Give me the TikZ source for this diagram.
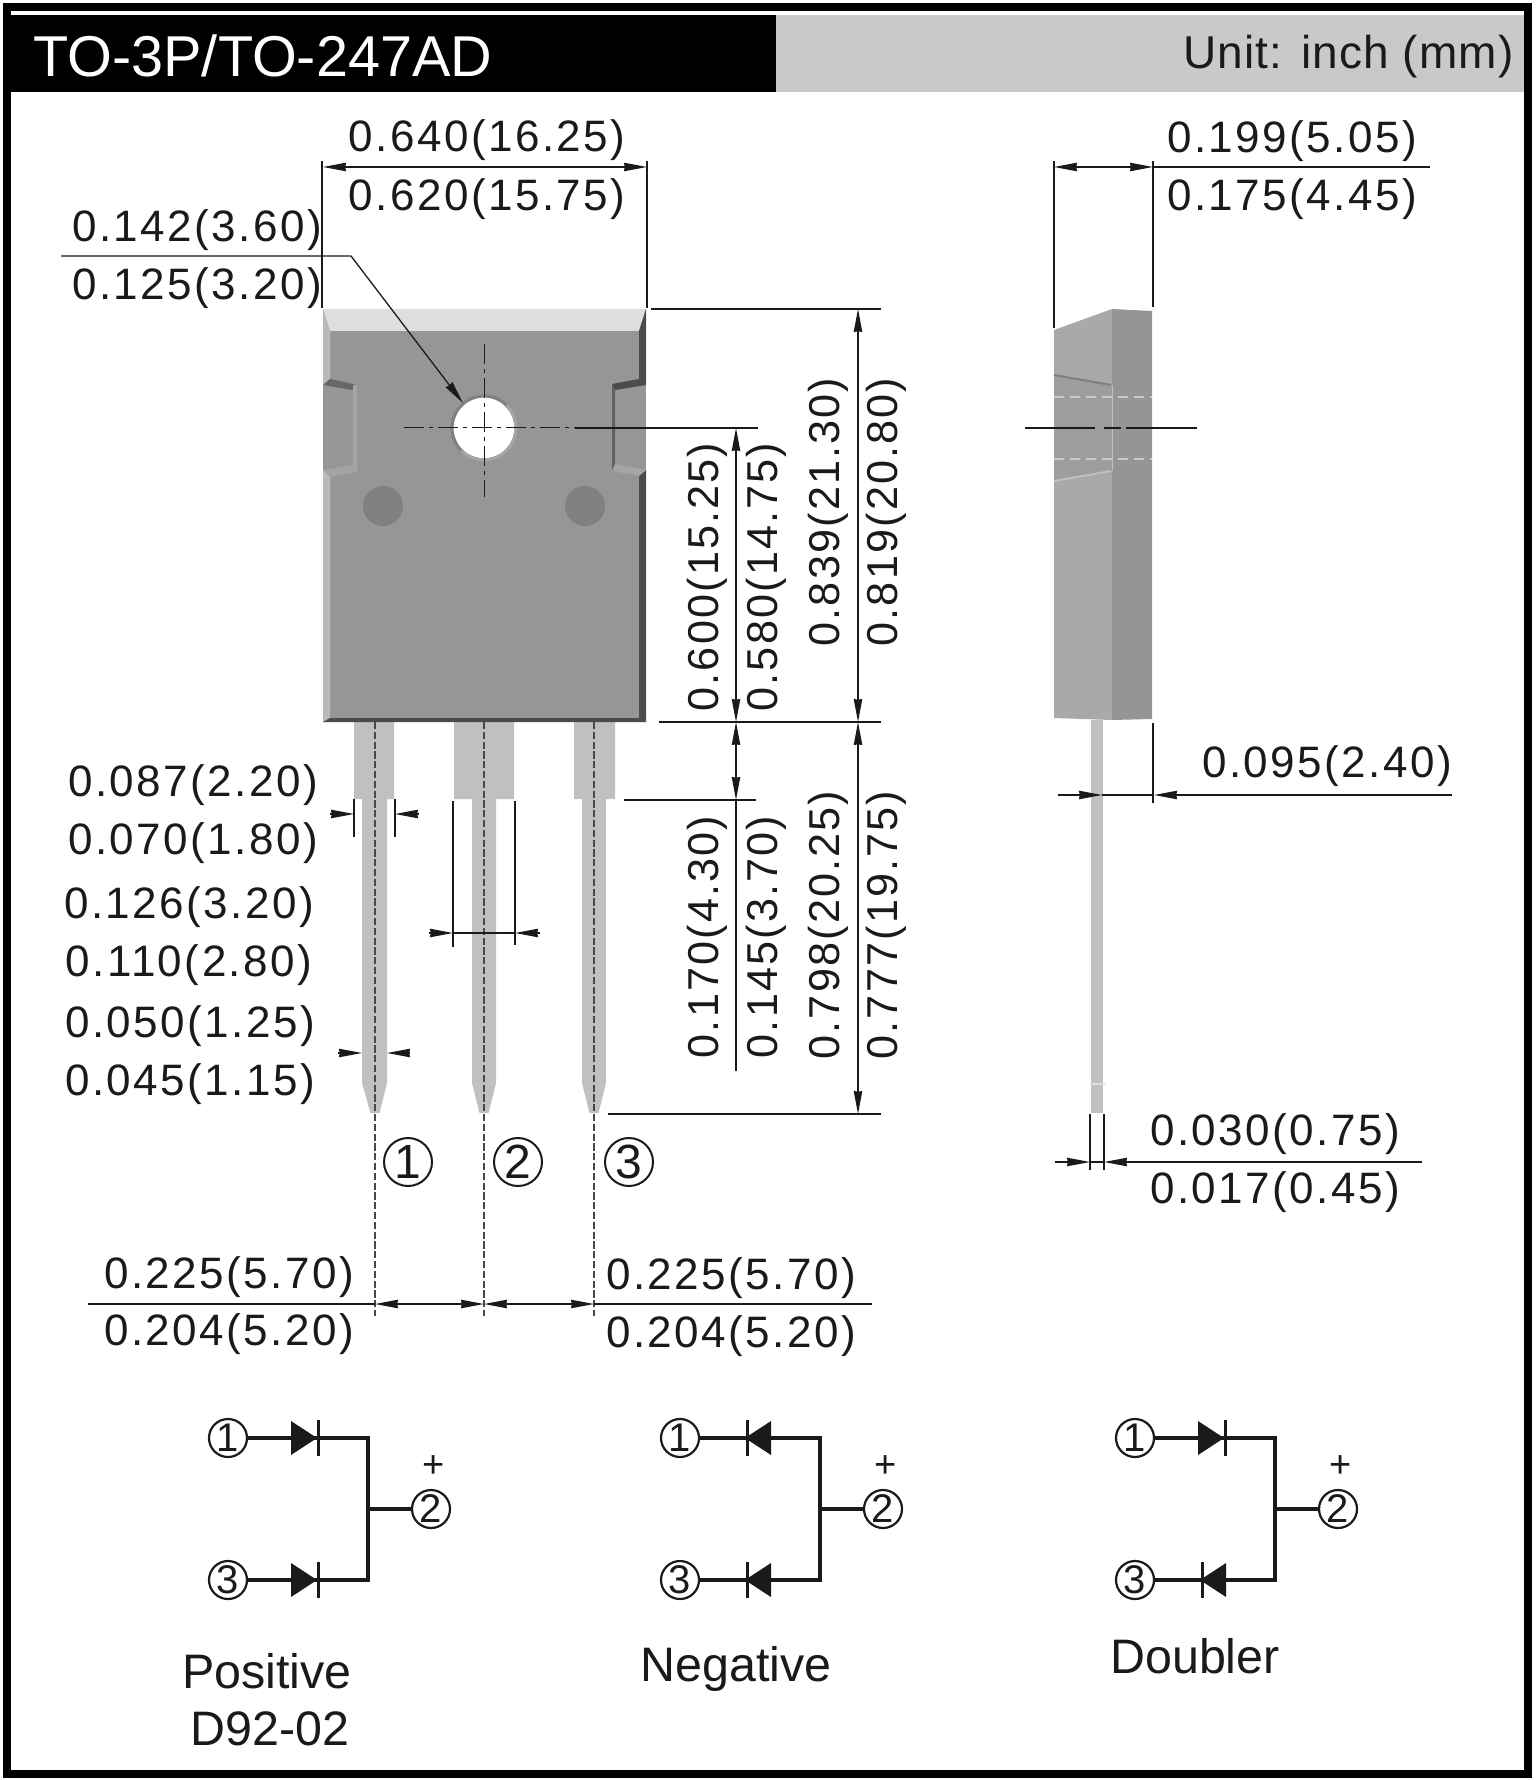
\documentclass[tikz,border=0pt]{standalone}
\usepackage{fontspec}
\setmainfont{Liberation Sans}
\newfontfamily\dimfont[LetterSpace=5.6]{Liberation Sans}
\newfontfamily\vdimfont[LetterSpace=5]{Liberation Sans}
\newfontfamily\unitfont[LetterSpace=2.5]{Liberation Sans}
\usetikzlibrary{arrows.meta}
\definecolor{bodyc}{HTML}{979694}
\definecolor{toplight}{HTML}{DEDEDD}
\definecolor{leftlight}{HTML}{B9B9B8}
\definecolor{edgedark}{HTML}{4D4A48}
\definecolor{midtone}{HTML}{A5A5A4}
\definecolor{dotc}{HTML}{81807E}
\definecolor{leadc}{HTML}{C0C0C0}
\definecolor{headgrey}{HTML}{C9C9C9}
\definecolor{sideleft}{HTML}{A9A9A9}
\definecolor{sideband}{HTML}{9D9D9D}
\definecolor{sideright}{HTML}{969593}
\definecolor{inkc}{HTML}{1A1A1A}
\tikzset{
  tipa/.tip={Stealth[length=11.5pt,width=4.2pt,inset=0.4pt]},
  dimtext/.style={font=\dimfont\fontsize{22}{26}\selectfont,inner sep=0pt,text height=15.8pt,text depth=0pt,text=inkc},
  vdim/.style={font=\vdimfont\fontsize{21.6}{26}\selectfont,inner sep=0pt,text height=15.5pt,text depth=0pt,text=inkc,rotate=90},
  dimline/.style={line width=0.65pt,draw=inkc},
  dimarrow/.style={dimline,{tipa}-{tipa}},
  oneway/.style={dimline,-{tipa}},
  centerdash/.style={line width=0.55pt,draw=inkc!80!white,dash pattern=on 3.6pt off 1.3pt},
  dashdot/.style={line width=0.5pt,draw=inkc,dash pattern=on 10pt off 2.5pt on 2pt off 2.5pt},
  wire/.style={line width=1.7pt,draw=inkc},
  pin/.style={circle,draw=inkc,line width=1.1pt,minimum size=19pt,inner sep=0pt,font=\fontsize{20}{20}\selectfont,text=inkc},
  bigpin/.style={circle,draw=inkc,line width=1pt,minimum size=24pt,inner sep=0pt,font=\fontsize{24}{24}\selectfont,text=inkc},
  circlabel/.style={inner sep=0pt,font=\fontsize{24.2}{28}\selectfont,text=inkc},
  lightdash/.style={line width=0.6pt,draw=headgrey,dash pattern=on 5pt off 3pt},
}
\newcommand{\fwd}[1]{\fill[inkc] (291,#1-17) -- (317,#1) -- (291,#1+17) -- cycle;
  \draw[line width=1.5pt,draw=inkc] (318,#1-18) -- (318,#1+18);}
\newcommand{\rev}[1]{\fill[inkc] (319,#1-17) -- (293,#1) -- (319,#1+17) -- cycle;
  \draw[line width=1.5pt,draw=inkc] (295,#1-18) -- (295,#1+18);}
\newcommand{\circuit}[5]{%
  \begin{scope}[xshift=#1*0.5pt,yshift=-#2*0.5pt]
    \node[pin] (a#3) at (228,1438) {1};
    \node[pin] (c#3) at (228,1580) {3};
    \node[pin] (b#3) at (431,1509) {2};
    \node[inner sep=0pt,font=\fontsize{19}{19}\selectfont,text=inkc] (p#3) at (434,1467) {+};
    \coordinate (t#3) at (368,1438);
    \coordinate (u#3) at (368,1580);
    \coordinate (j#3) at (368,1509);
    \draw[wire] (a#3) -- (t#3) -- (u#3) -- (c#3);
    \draw[wire] (j#3) -- (b#3);
    #4
    #5
  \end{scope}}
\begin{document}
\begin{tikzpicture}[x=0.5pt,y=-0.5pt]
\useasboundingbox (0,0) rectangle (1536,1780);
\fill[white] (0,0) rectangle (1536,1780);
% header
\fill[black] (10,15) rectangle (776,92);
\fill[headgrey] (776,15) rectangle (1524,92);
\node[inner sep=0pt,anchor=base west,text=white,font=\fontsize{28.8}{30}\selectfont] (title) at (33,76.5) {TO-3P/TO-247AD};
\node[inner sep=0pt,anchor=base east,text=inkc,font=\unitfont\fontsize{23}{26}\selectfont] (unit) at (1514,69) {Unit: inch (mm)};
\draw[line width=4pt,black] (6.5,7) rectangle (1528,1774);

% leads, front view
\fill[leadc] (354,722) -- (394,722) -- (394,799) -- (387,799) -- (387,1083) -- (379.5,1113) -- (370.5,1113) -- (362,1083) -- (362,799) -- (354,799) -- cycle;
\fill[leadc] (454,722) -- (514,722) -- (514,799) -- (496,799) -- (496,1083) -- (488.5,1113) -- (479.5,1113) -- (472,1083) -- (472,799) -- (454,799) -- cycle;
\fill[leadc] (574,722) -- (615,722) -- (615,799) -- (606,799) -- (606,1083) -- (598.5,1113) -- (589.5,1113) -- (582,1083) -- (582,799) -- (574,799) -- cycle;

% body, front view
\fill[bodyc] (323,309) rectangle (646,722);
\fill[toplight] (323,309) -- (646,309) -- (639,331) -- (330,331) -- cycle;
\fill[leftlight] (323,309) -- (330,331) -- (330,379) -- (323,385) -- cycle;
\fill[leftlight] (323,470) -- (330,477) -- (330,718) -- (323,722) -- cycle;
\fill[edgedark] (646,309) -- (639,331) -- (639,379) -- (646,385) -- cycle;
\fill[edgedark] (646,470) -- (639,476) -- (639,718) -- (646,722) -- cycle;
\fill[edgedark] (323,722) -- (330,718) -- (639,718) -- (646,722) -- cycle;
\fill[edgedark!85!white] (323,385) -- (330,379) -- (357,385) -- (353,390) -- cycle;
\fill[midtone] (353,385) -- (357,385) -- (357,472) -- (353,465) -- cycle;
\fill[midtone] (323,470) -- (353,465) -- (357,472) -- (330,477) -- cycle;
\fill[edgedark] (646,385) -- (639,379) -- (612,384) -- (615,390) -- cycle;
\fill[edgedark!70!bodyc] (612,384) -- (615,390) -- (615,464) -- (612,471) -- cycle;
\fill[midtone] (612,471) -- (615,464) -- (646,470) -- (639,476) -- cycle;
\fill[dotc] (383,506) circle[radius=20];
\fill[dotc] (585,506) circle[radius=20];
\fill[white] (484,428) circle[radius=31];
\draw[line width=1.6pt,draw=dotc] (484,428) circle[radius=32];
\draw[line width=1.6pt,draw=midtone] (506.6,405.4) arc[start angle=45,end angle=-135,radius=16pt];

% centre lines
\draw[dashdot] (484,344) -- (484,497);
\draw[dashdot] (404,428) -- (575,428);
\draw[centerdash] (375,722) -- (375,1316);
\draw[centerdash] (484,722) -- (484,1316);
\draw[centerdash] (594,722) -- (594,1316);

% side view
\fill[sideleft] (1054,330) -- (1112,309) -- (1112,720) -- (1054,718) -- cycle;
\fill[sideband] (1054,375) -- (1112,385) -- (1112,471) -- (1054,481) -- cycle;
\fill[sideright] (1112,309) -- (1152,311) -- (1152,719) -- (1112,720) -- cycle;
\draw[line width=1pt,draw=dotc] (1054,375) -- (1111,385);
\draw[line width=1pt,draw=leadc] (1054,481) -- (1111,471);
\draw[line width=0.4pt,draw=leadc] (1112,385) -- (1112,471);
\draw[lightdash] (1054,397) -- (1152,397);
\draw[lightdash] (1054,459) -- (1152,459);
\fill[leadc] (1091,720) rectangle (1103,1113);
\draw[line width=1pt,draw=toplight] (1090,1084) -- (1105,1084);
\draw[dimline] (1025,428) -- (1095,428);
\draw[dimline] (1104,428) -- (1121,428);
\draw[dimline] (1126,428) -- (1197,428);

% top width
\coordinate (wl) at (323,167);
\coordinate (wr) at (647,167);
\draw[dimline] (322,161) -- (322,308);
\draw[dimline] (647,161) -- (647,308);
\draw[dimarrow] (wl) -- (wr);
\node[dimtext] (w1) at (487,136) {0.640(16.25)};
\node[dimtext] (w2) at (487,194.5) {0.620(15.75)};

% hole diameter
\node[dimtext] (h1) at (197,226) {0.142(3.60)};
\node[dimtext] (h2) at (197,284) {0.125(3.20)};
\coordinate (hs) at (61,256);
\coordinate (hk) at (351,256);
\coordinate (he) at (463,403);
\draw[oneway] (hs) -- (hk) -- (he);

% horizontal extension lines
\draw[dimline] (651,309) -- (881,309);
\draw[dimline] (659,722) -- (881,722);
\draw[dimline] (575,428) -- (758,428);
\draw[dimline] (624,800) -- (756,800);
\draw[dimline] (608,1114) -- (881,1114);

% vertical dimensions
\draw[dimarrow] (858,309) -- (858,722);
\draw[dimarrow] (858,722) -- (858,1114);
\draw[dimarrow] (736,428) -- (736,722);
\draw[dimarrow] (736,722) -- (736,800);
\draw[dimline] (736,800) -- (736,1071);
\node[vdim] (v1) at (824,512) {0.839(21.30)};
\node[vdim] (v2) at (882,512) {0.819(20.80)};
\node[vdim] (v3) at (703,577) {0.600(15.25)};
\node[vdim] (v4) at (762,577) {0.580(14.75)};
\node[vdim] (v5) at (703,937) {0.170(4.30)};
\node[vdim] (v6) at (762,937) {0.145(3.70)};
\node[vdim] (v7) at (824,925) {0.798(20.25)};
\node[vdim] (v8) at (882,925) {0.777(19.75)};

% lead widths
\node[dimtext] (l1) at (193,781) {0.087(2.20)};
\node[dimtext] (l2) at (193,839) {0.070(1.80)};
\draw[dimline] (354,799) -- (354,837);
\draw[dimline] (395,799) -- (395,837);
\draw[oneway] (330,814) -- (354,814);
\draw[oneway] (419,814) -- (395,814);

\node[dimtext] (l3) at (189,903) {0.126(3.20)};
\node[dimtext] (l4) at (189,961) {0.110(2.80)};
\draw[dimline] (453,801) -- (453,947);
\draw[dimline] (515,801) -- (515,945);
\draw[oneway] (429,933) -- (453,933);
\draw[oneway] (540,933) -- (515,933);
\draw[dimline] (453,933) -- (515,933);

\node[dimtext] (l5) at (190,1022) {0.050(1.25)};
\node[dimtext] (l6) at (190,1080) {0.045(1.15)};
\draw[oneway] (338,1053) -- (362,1053);
\draw[oneway] (410,1053) -- (387,1053);

% pin numbers
\node[bigpin] (pin1) at (408,1162) {1};
\node[bigpin] (pin2) at (518,1162) {2};
\node[bigpin] (pin3) at (629,1162) {3};

% pitch
\node[dimtext] (s1) at (229,1273) {0.225(5.70)};
\node[dimtext] (s2) at (229,1330) {0.204(5.20)};
\node[dimtext] (s3) at (731,1274) {0.225(5.70)};
\node[dimtext] (s4) at (731,1332) {0.204(5.20)};
\draw[dimline] (88,1304) -- (375,1304);
\draw[dimline] (594,1304) -- (872,1304);
\draw[dimarrow] (375,1304) -- (484,1304);
\draw[dimarrow] (484,1304) -- (594,1304);

% side dimensions
\draw[dimline] (1054,161) -- (1054,328);
\draw[dimline] (1153,161) -- (1153,307);
\draw[dimarrow] (1054,167) -- (1153,167);
\draw[dimline] (1153,167) -- (1430,167);
\node[dimtext] (d1) at (1292,137) {0.199(5.05)};
\node[dimtext] (d2) at (1292,195) {0.175(4.45)};

\draw[dimline] (1153,723) -- (1153,803);
\draw[oneway] (1058,795) -- (1102,795);
\draw[dimline] (1102,795) -- (1153,795);
\draw[dimline] (1177,795) -- (1452,795);
\draw[oneway] (1177,795) -- (1154,795);
\node[dimtext] (d3) at (1327,762) {0.095(2.40)};

\draw[dimline] (1090,1114) -- (1090,1170);
\draw[dimline] (1104,1114) -- (1104,1170);
\draw[oneway] (1055,1162) -- (1090,1162);
\draw[dimline] (1090,1162) -- (1104,1162);
\draw[dimline] (1127,1162) -- (1422,1162);
\draw[oneway] (1127,1162) -- (1104,1162);
\node[dimtext] (d4) at (1275,1130) {0.030(0.75)};
\node[dimtext] (d5) at (1275,1188) {0.017(0.45)};

% circuits
\circuit{0}{0}{P}{\fwd{1438}}{\fwd{1580}}
\circuit{452}{0}{N}{\rev{1438}}{\rev{1580}}
\circuit{907}{0}{D}{\fwd{1438}}{\rev{1580}}
\node[circlabel] (cp) at (267,1671) {Positive};
\node[circlabel] (cq) at (270,1729) {D92-02};
\node[circlabel] (cn) at (736,1669) {Negative};
\node[circlabel] (cd) at (1195,1656) {Doubler};
\end{tikzpicture}
\end{document}
